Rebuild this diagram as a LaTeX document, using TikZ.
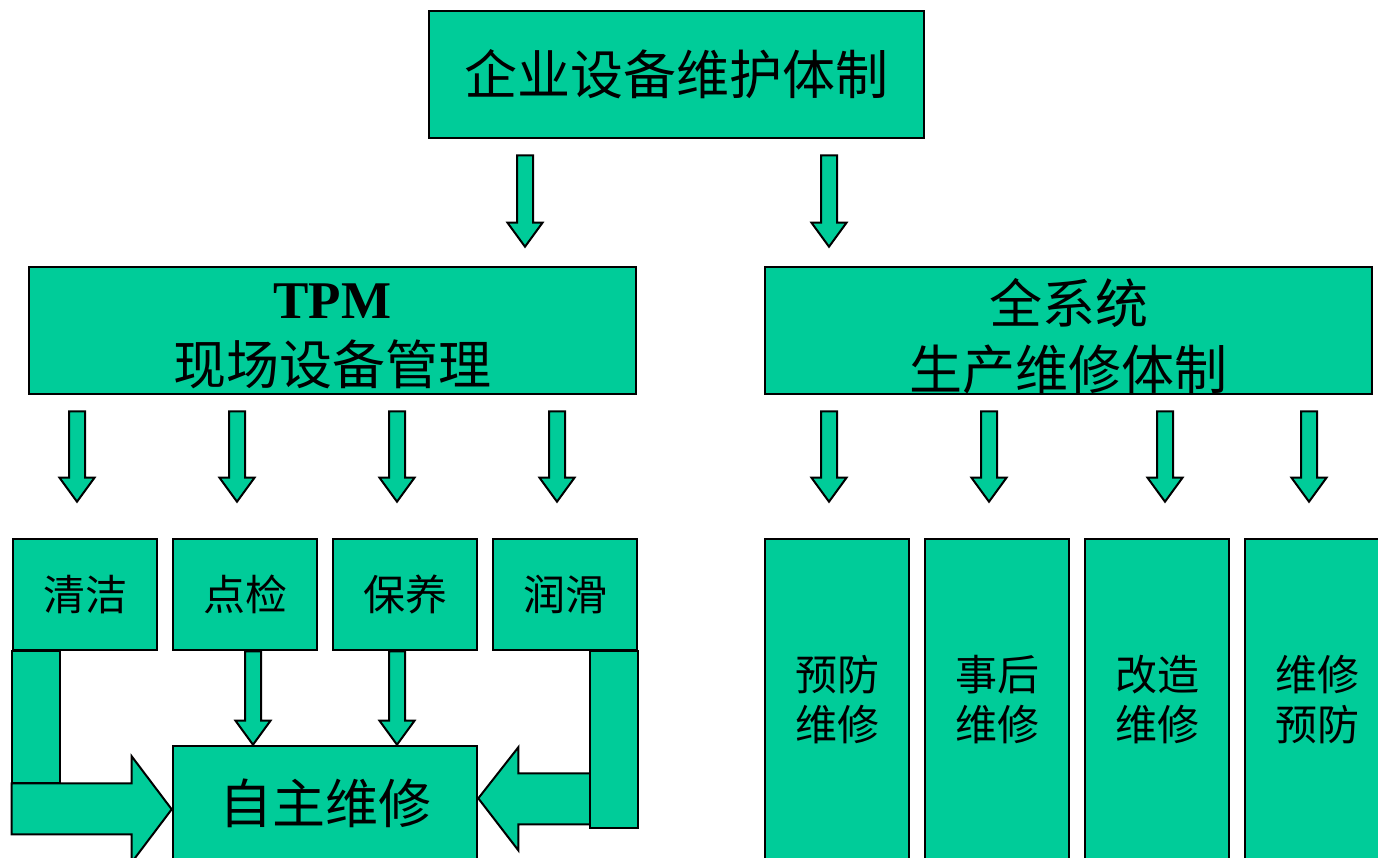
\documentclass[tikz,border=0pt]{standalone}
\usepackage{fontspec}
\setmainfont{Liberation Serif}
\newfontfamily\cjk{Noto Sans CJK SC}
\usetikzlibrary{calc}
\definecolor{mint}{RGB}{0,204,153}
\tikzset{
  box/.style={draw=black, fill=mint, line width=2.6pt, inner sep=0pt, align=center},
  bigtxt/.style={font=\cjk\fontsize{53}{66}\selectfont},
  midtxt/.style={font=\cjk\fontsize{42}{50}\selectfont},
  twoline/.style={label={[bigtxt, align=center, inner sep=0pt, yshift=-6pt]center:#1}},
  barrow/.style={draw=black, fill=mint, line width=2pt, line join=miter},
}
% vertical block arrow: #1 start (x and y used), #2 tip (only y used)
\newcommand\blockdown[2]{%
  \path[barrow] let \p1=#1, \p2=#2 in
    ({\x1-8pt},\y1) -- ({\x1+8pt},\y1) -- ({\x1+8pt},{\y2+24pt}) --
    ({\x1+17.5pt},{\y2+24pt}) -- (\x1,\y2) -- ({\x1-17.5pt},{\y2+24pt}) --
    ({\x1-8pt},{\y2+24pt}) -- cycle;}
\begin{document}
\begin{tikzpicture}[x=1pt,y=-1pt]
\useasboundingbox (0,0) rectangle (1378,857);
\clip (0,0) rectangle (1378,857);

% main boxes
\node[box, bigtxt, minimum width=495, minimum height=127] (top) at (676.5,74.5) {企业设备维护体制};
\node[box, minimum width=607, minimum height=127,
  twoline={{\rmfamily\bfseries TPM}\\现场设备管理}] (tpm) at (332.5,330.5) {};
\node[box, minimum width=607, minimum height=127,
  twoline={全系统\\生产维修体制}] (sys) at (1068.5,330.5) {};

% small boxes (left)
\node[box, midtxt, minimum width=144, minimum height=111] (b1) at (85,594.5) {清洁};
\node[box, midtxt, minimum width=144, minimum height=111] (b2) at (245,594.5) {点检};
\node[box, midtxt, minimum width=144, minimum height=111] (b3) at (405,594.5) {保养};
\node[box, midtxt, minimum width=144, minimum height=111] (b4) at (565,594.5) {润滑};

% tall boxes (right)
\node[box, midtxt, minimum width=144, minimum height=322] (p1) at (837,700) {预防\\维修};
\node[box, midtxt, minimum width=144, minimum height=322] (p2) at (997,700) {事后\\维修};
\node[box, midtxt, minimum width=144, minimum height=322] (p3) at (1157,700) {改造\\维修};
\node[box, midtxt, minimum width=144, minimum height=322] (p4) at (1317,700) {维修\\预防};

% self-maintenance box
\node[box, bigtxt, minimum width=304, minimum height=114] (zz) at (325,803) {自主维修};

% arrows from top
\blockdown{($(top.south)+(-151.5,16)$)}{($(tpm.north)+(0,-19)$)}
\blockdown{($(top.south)+(152.5,16)$)}{($(sys.north)+(0,-19)$)}

% arrows from TPM
\blockdown{($(tpm.south)+(-255.5,16)$)}{($(b1.north)+(0,-36)$)}
\blockdown{($(tpm.south)+(-95.5,16)$)}{($(b2.north)+(0,-36)$)}
\blockdown{($(tpm.south)+(64.5,16)$)}{($(b3.north)+(0,-36)$)}
\blockdown{($(tpm.south)+(224.5,16)$)}{($(b4.north)+(0,-36)$)}

% arrows from system
\blockdown{($(sys.south)+(-239.5,16)$)}{($(p1.north)+(0,-36)$)}
\blockdown{($(sys.south)+(-79.5,16)$)}{($(p2.north)+(0,-36)$)}
\blockdown{($(sys.south)+(96.5,16)$)}{($(p3.north)+(0,-36)$)}
\blockdown{($(sys.south)+(240.5,16)$)}{($(p4.north)+(0,-36)$)}

% arrows into self-maintenance
\blockdown{($(b2.south)+(8,0)$)}{(zz.north)}
\blockdown{($(b3.south)+(-8,0)$)}{(zz.north)}

% left bent arrow
\path[barrow] (b1.south west) rectangle ($(b1.south west)+(48,132)$);
\path[barrow] let \p1=(b1.south west), \p2=(zz.west) in
  (\x1,{\y1-132pt}) -- ({\x2-40pt},{\y1-132pt}) -- ({\x2-40pt},{\y1-105pt}) --
  (\x2,{\y1-158pt}) -- ({\x2-40pt},{\y1-211pt}) -- ({\x2-40pt},{\y1-183pt}) --
  (\x1,{\y1-183pt}) -- cycle;

% right bent arrow
\path[barrow] let \p1=(b4.south east), \p2=(zz.east) in
  ({\x1-42pt},{\y1-122pt}) -- ({\x2+40pt},{\y1-122pt}) -- ({\x2+40pt},{\y1-96pt}) --
  (\x2,{\y1-147pt}) -- ({\x2+40pt},{\y1-199pt}) -- ({\x2+40pt},{\y1-173pt}) --
  ({\x1-42pt},{\y1-173pt}) -- cycle;
\path[barrow] (b4.south east) rectangle ($(b4.south east)+(-48,177)$);
\end{tikzpicture}
\end{document}
